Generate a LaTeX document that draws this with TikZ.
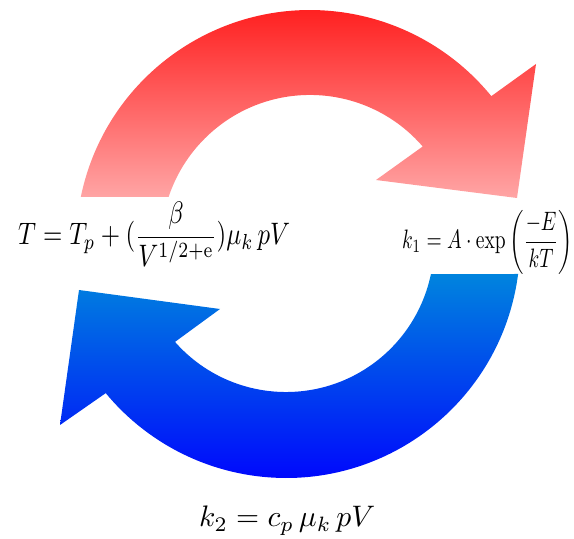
\documentclass[tikz,border=0pt]{standalone}
\usepackage{amsmath}
\usepackage{graphicx}
\definecolor{redtop}{RGB}{255,18,18}
\definecolor{redbot}{RGB}{255,165,165}
\definecolor{bluetop}{RGB}{0,132,222}
\definecolor{bluebot}{RGB}{0,0,255}
\begin{document}
\begin{tikzpicture}[x=1pt,y=1pt, eq/.style={inner sep=0pt, anchor=base west}]
\useasboundingbox (0,0) rectangle (574,539);
% red arrow (top)
\shade[top color=redtop, bottom color=redbot]
  (80.8,342) arc[start angle=168.4, end angle=39.2, radius=234]
  -- (536,475) -- (517,341) -- (376,359) -- (422.7,392.5)
  arc[start angle=40.85, end angle=161.6, radius=149] -- cycle;
% blue arrow (bottom)
\shade[top color=bluetop, bottom color=bluebot]
  (518.1,265) arc[start angle=-7.37, end angle=-140.4, radius=234]
  -- (60,114) -- (79,249) -- (220,230) -- (175,197.1)
  arc[start angle=-138.6, end angle=-11.7, radius=148] -- cycle;
% formulas
\node[eq] (eqT) at (18,294) {\scalebox{1}[1.25]{\resizebox{272pt}{!}{$T = T_{p} + (\dfrac{\beta}{V^{\mathrm{1/2+e}}})\mu_{k}\,pV$}}};
\node[eq] (eqk1) at (402,290) {\resizebox*{171pt}{64pt}{$k_{1} = A\cdot\exp\left(\dfrac{-E}{kT}\right)$}};
\node[eq] (eqk2) at (199,12) {\resizebox{176pt}{!}{$k_{2} = c_{p}\,\mu_{k}\,pV$}};
\end{tikzpicture}
\end{document}
